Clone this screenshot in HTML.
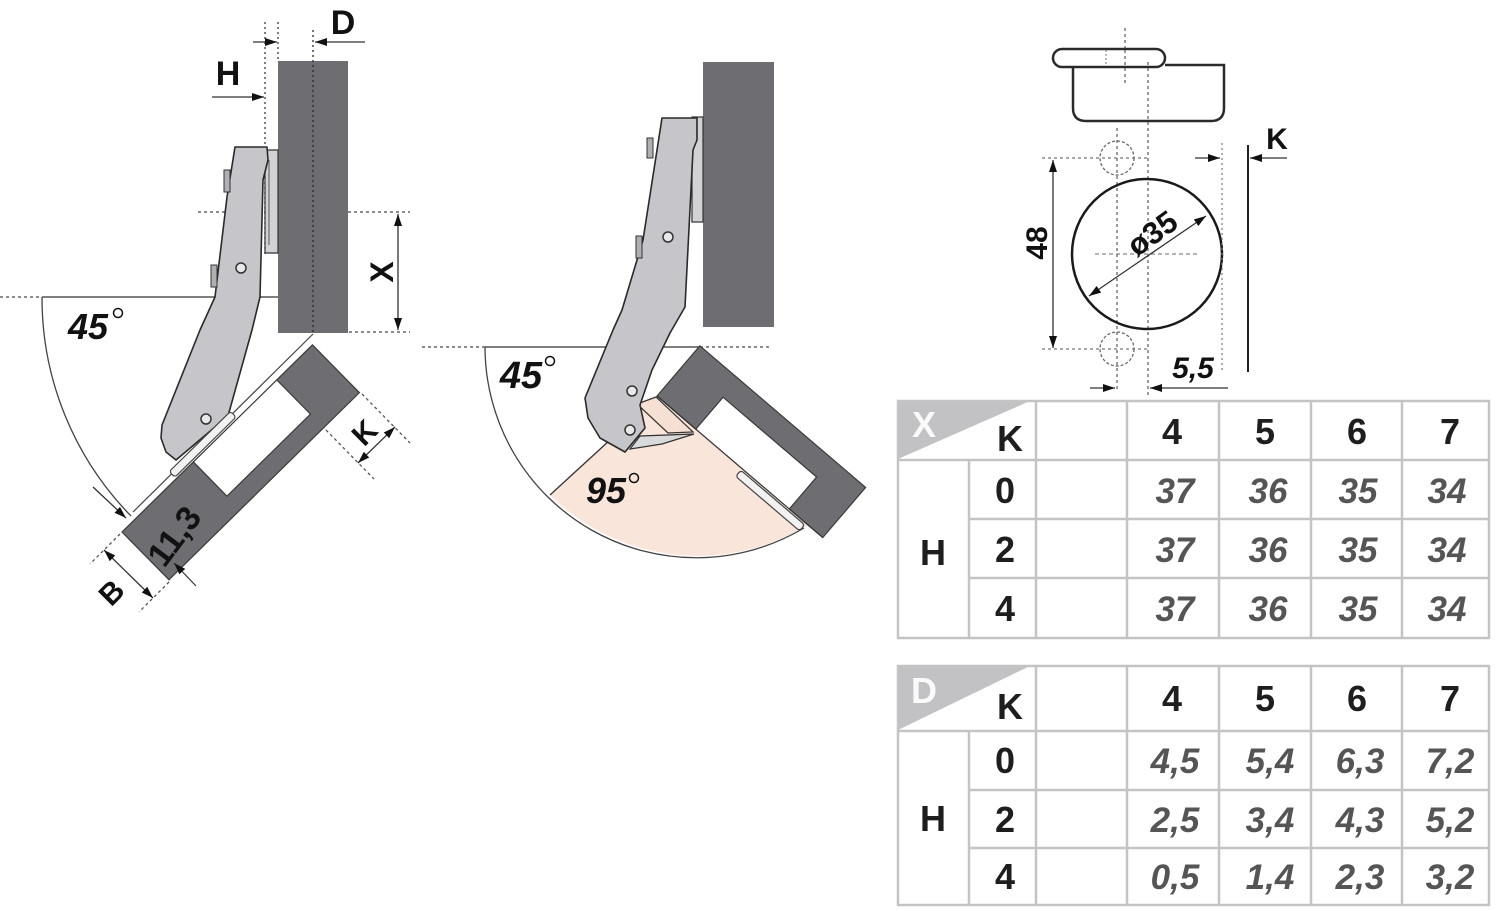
<!DOCTYPE html>
<html><head><meta charset="utf-8">
<style>
html,body{margin:0;padding:0;background:#fff;}
svg{display:block;}
text{font-family:"Liberation Sans",Arial,sans-serif;}
</style></head><body>
<svg width="1500" height="911" viewBox="0 0 1500 911" xmlns="http://www.w3.org/2000/svg">
<defs>
<marker id="ah" viewBox="0 0 12 8" refX="12" refY="4" markerWidth="12" markerHeight="8" markerUnits="userSpaceOnUse" orient="auto-start-reverse"><path d="M0,0 L12,4 L0,8 z" fill="#111"/></marker>
</defs>
<rect width="1500" height="911" fill="#fff"/>

<!-- ================= LEFT DRAWING ================= -->
<line x1="265" y1="22" x2="265" y2="255" stroke="#555" stroke-width="1.5" stroke-dasharray="2,3"/>
<line x1="278" y1="22" x2="278" y2="61" stroke="#555" stroke-width="1.5" stroke-dasharray="2,3"/>
<line x1="253" y1="42" x2="277" y2="42" stroke="#333" stroke-width="1.3" marker-end="url(#ah)"/>
<line x1="365" y1="42" x2="315" y2="42" stroke="#333" stroke-width="1.3" marker-end="url(#ah)"/>
<line x1="212" y1="97" x2="264" y2="97" stroke="#333" stroke-width="1.3" marker-end="url(#ah)"/>
<line x1="303" y1="97" x2="280" y2="97" stroke="#333" stroke-width="1.3" marker-end="url(#ah)"/>
<text x="343" y="34" font-size="34" font-weight="bold" text-anchor="middle" fill="#111">D</text>
<text x="228" y="85" font-size="34" font-weight="bold" text-anchor="middle" fill="#111">H</text>

<line x1="198" y1="212" x2="410" y2="212" stroke="#666" stroke-width="1.5" stroke-dasharray="3,3"/>
<line x1="349" y1="332" x2="410" y2="332" stroke="#666" stroke-width="1.5" stroke-dasharray="3,3"/>
<line x1="0" y1="297" x2="42" y2="297" stroke="#666" stroke-width="1.5" stroke-dasharray="3,3"/>
<line x1="42" y1="297" x2="278" y2="297" stroke="#333" stroke-width="1.3"/>
<line x1="398" y1="214" x2="398" y2="330" stroke="#333" stroke-width="1.3" marker-start="url(#ah)" marker-end="url(#ah)"/>
<text x="382" y="283" font-size="32" font-weight="bold" text-anchor="middle" fill="#111" transform="rotate(-90 382 272)">X</text>

<rect x="278" y="61" width="70" height="272" fill="#6e6d72"/>
<line x1="313" y1="30" x2="313" y2="333" stroke="#2a2a2a" stroke-width="1.3" stroke-dasharray="2,3"/>

<path d="M42,297 A312,312 0 0 0 131,516" fill="none" stroke="#444" stroke-width="1.3"/>
<line x1="93" y1="487" x2="126" y2="518" stroke="#333" stroke-width="1.3" marker-end="url(#ah)"/>
<text x="88" y="339" font-size="36" font-weight="bold" font-style="italic" text-anchor="middle" fill="#111">45</text>
<circle cx="118" cy="313" r="4.5" fill="none" stroke="#111" stroke-width="1.5"/>

<line x1="313" y1="334" x2="133" y2="512" stroke="#444" stroke-width="1.2"/>

<g transform="translate(122,532) rotate(-44.5)">
  <path d="M0,0 L100,0 L100,48 L217,48 L217,0 L267,0 L267,67 L0,67 Z" fill="#6e6d72" stroke="#3a3a3a" stroke-width="1.2"/>
  <line x1="100" y1="0" x2="217" y2="0" stroke="#333" stroke-width="1.2"/>
</g>

<path d="M265,150 L278,150 L278,253 L265,253 Z" fill="#d2d2d5" stroke="#333" stroke-width="1.2"/>
<line x1="269" y1="160" x2="269" y2="245" stroke="#555" stroke-width="1"/>

<path d="M235,147 L267,147 L268,160 L263,180 L260,297 L252,330 L228,416 L176,460 L166,452 L161,438 L162,425 L200,330 L215,297 L227,197 Z" fill="#c6c6ca" stroke="#2a2a2a" stroke-width="1.6" stroke-linejoin="round"/>
<rect x="224" y="170" width="6" height="22" fill="#b0b0b4" stroke="#333" stroke-width="1"/>
<rect x="211" y="265" width="6" height="22" fill="#b0b0b4" stroke="#333" stroke-width="1"/>
<circle cx="241" cy="268" r="5" fill="#e8e8ea" stroke="#333" stroke-width="1.5"/>
<circle cx="206" cy="419" r="5" fill="#e8e8ea" stroke="#333" stroke-width="1.5"/>
<g transform="translate(122,532) rotate(-44.5)">
  <rect x="76" y="-10" width="86" height="8" rx="3" fill="#f2f2f2" stroke="#444" stroke-width="1.2"/>
</g>

<text x="174" y="548" font-size="34" font-weight="bold" text-anchor="middle" fill="#111" transform="rotate(-53 174 536)">11,3</text>
<line x1="196" y1="586" x2="174" y2="563" stroke="#333" stroke-width="1.2" marker-end="url(#ah)"/>

<line x1="120" y1="534" x2="90" y2="564" stroke="#555" stroke-width="1.3" stroke-dasharray="3,3"/>
<line x1="169" y1="582" x2="139" y2="612" stroke="#555" stroke-width="1.3" stroke-dasharray="3,3"/>
<line x1="104" y1="550" x2="153" y2="598" stroke="#333" stroke-width="1.3" marker-start="url(#ah)" marker-end="url(#ah)"/>
<text x="111" y="603" font-size="30" font-weight="bold" text-anchor="middle" fill="#111" transform="rotate(-45 111 592)">B</text>

<line x1="362" y1="394" x2="410" y2="443" stroke="#555" stroke-width="1.3" stroke-dasharray="3,3"/>
<line x1="326" y1="430" x2="374" y2="479" stroke="#555" stroke-width="1.3" stroke-dasharray="3,3"/>
<line x1="395" y1="427" x2="358" y2="463" stroke="#333" stroke-width="1.3" marker-start="url(#ah)" marker-end="url(#ah)"/>
<text x="364" y="443" font-size="30" font-weight="bold" text-anchor="middle" fill="#111" transform="rotate(-45 364 432)">K</text>

<!-- ================= MIDDLE DRAWING ================= -->
<rect x="703" y="62" width="71" height="265" fill="#6e6d72"/>
<line x1="422" y1="347" x2="485" y2="347" stroke="#666" stroke-width="1.5" stroke-dasharray="3,3"/>
<line x1="485" y1="347" x2="700" y2="347" stroke="#333" stroke-width="1.3"/>
<line x1="700" y1="347" x2="772" y2="347" stroke="#666" stroke-width="1.5" stroke-dasharray="3,3"/>

<path d="M550,495 A211,211 0 0 0 808,525 L657,396 L640,405 L608,442 Z" fill="#f9e5d9"/>
<path d="M485,347 A211,211 0 0 0 804,528" fill="none" stroke="#444" stroke-width="1.3"/>
<line x1="550" y1="495" x2="610" y2="440" stroke="#333" stroke-width="1.3"/>

<g transform="translate(657,396) rotate(40.5)">
  <path d="M0,0 L51,0 L51,-42 L174,-42 L174,0 L218,0 L218,-66 L0,-66 Z" fill="#6e6d72" stroke="#3a3a3a" stroke-width="1.2"/>
  <line x1="0" y1="0" x2="218" y2="0" stroke="#333" stroke-width="1.2"/>
  <rect x="112" y="2" width="84" height="8" rx="3" fill="#f2f2f2" stroke="#444" stroke-width="1.2"/>
</g>

<path d="M637,404 L656,397 L693,432 L668,433 Z" fill="#f5e0d3" stroke="#333" stroke-width="1.2"/>
<path d="M630,449 L640,436 L694,434 L662,444 Z" fill="#dadadd" stroke="#333" stroke-width="1.2"/>

<rect x="692" y="117" width="11" height="105" fill="#d2d2d5" stroke="#333" stroke-width="1.2"/>

<path d="M662,118 L697,118 L697,140 L693,150 L685,307 L670,333 L652,370 L640,405 L645,428 L625,452 L600,438 L588,418 L585,398 L613,330 L622,310 L643,240 Z" fill="#c6c6ca" stroke="#2a2a2a" stroke-width="1.6" stroke-linejoin="round"/>
<rect x="647" y="138" width="6" height="20" fill="#b0b0b4" stroke="#333" stroke-width="1"/>
<rect x="636" y="236" width="6" height="22" fill="#b0b0b4" stroke="#333" stroke-width="1"/>
<circle cx="668" cy="237" r="5" fill="#e8e8ea" stroke="#333" stroke-width="1.5"/>
<circle cx="632" cy="391" r="5" fill="#e8e8ea" stroke="#333" stroke-width="1.5"/>
<circle cx="630" cy="430" r="5" fill="#e8e8ea" stroke="#333" stroke-width="1.5"/>

<text x="521" y="388" font-size="38" font-weight="bold" font-style="italic" text-anchor="middle" fill="#111">45</text>
<circle cx="550" cy="361" r="4.5" fill="none" stroke="#111" stroke-width="1.5"/>
<text x="606" y="503" font-size="36" font-weight="bold" font-style="italic" text-anchor="middle" fill="#111">95</text>
<circle cx="634" cy="478" r="4.5" fill="none" stroke="#111" stroke-width="1.5"/>

<!-- ================= CUP DRAWING ================= -->
<line x1="1125" y1="28" x2="1125" y2="83" stroke="#666" stroke-width="1.3" stroke-dasharray="3,3"/>
<path d="M1165,65 L1224,65 L1224,108 Q1224,121 1211,121 L1086,121 Q1073,121 1073,108 L1073,67" fill="#fff" stroke="#2a2a2a" stroke-width="2.5"/>
<rect x="1053" y="49" width="112" height="18" rx="9" fill="#fff" stroke="#2a2a2a" stroke-width="2.5"/>
<line x1="1106" y1="50" x2="1106" y2="66" stroke="#777" stroke-width="1" stroke-dasharray="2,2"/>
<line x1="1125" y1="50" x2="1125" y2="83" stroke="#666" stroke-width="1.3" stroke-dasharray="3,3"/>
<line x1="1148" y1="62" x2="1148" y2="395" stroke="#666" stroke-width="1.3" stroke-dasharray="3,3"/>
<line x1="1117" y1="128" x2="1117" y2="392" stroke="#666" stroke-width="1.3" stroke-dasharray="3,3"/>
<circle cx="1117" cy="158" r="17" fill="none" stroke="#666" stroke-width="1.3" stroke-dasharray="3,2"/>
<circle cx="1117" cy="349" r="17" fill="none" stroke="#666" stroke-width="1.3" stroke-dasharray="3,2"/>
<line x1="1042" y1="158" x2="1148" y2="158" stroke="#777" stroke-width="1.2" stroke-dasharray="3,3"/>
<line x1="1042" y1="349" x2="1148" y2="349" stroke="#777" stroke-width="1.2" stroke-dasharray="3,3"/>
<line x1="1053" y1="160" x2="1053" y2="348" stroke="#333" stroke-width="1.3" marker-start="url(#ah)" marker-end="url(#ah)"/>
<text x="1036" y="254" font-size="30" font-weight="bold" text-anchor="middle" fill="#111" transform="rotate(-90 1036 243)">48</text>
<circle cx="1147" cy="254" r="75" fill="none" stroke="#1a1a1a" stroke-width="2.5"/>
<line x1="1095" y1="254" x2="1200" y2="254" stroke="#888" stroke-width="1.2" stroke-dasharray="4,3"/>
<line x1="1089" y1="296" x2="1206" y2="216" stroke="#333" stroke-width="1.3" marker-start="url(#ah)" marker-end="url(#ah)"/>
<text x="1152" y="244" font-size="31" font-weight="bold" text-anchor="middle" fill="#111" transform="rotate(-36 1152 233)">ø35</text>
<line x1="1222" y1="143" x2="1222" y2="373" stroke="#777" stroke-width="1.2" stroke-dasharray="2,3"/>
<line x1="1248" y1="145" x2="1248" y2="372" stroke="#222" stroke-width="2"/>
<line x1="1195" y1="158" x2="1220" y2="158" stroke="#333" stroke-width="1.3" marker-end="url(#ah)"/>
<line x1="1287" y1="158" x2="1250" y2="158" stroke="#333" stroke-width="1.3" marker-end="url(#ah)"/>
<text x="1277" y="149" font-size="30" font-weight="bold" text-anchor="middle" fill="#111">K</text>
<line x1="1090" y1="388" x2="1115" y2="388" stroke="#333" stroke-width="1.3" marker-end="url(#ah)"/>
<line x1="1228" y1="388" x2="1150" y2="388" stroke="#333" stroke-width="1.3" marker-end="url(#ah)"/>
<text x="1193" y="378" font-size="30" font-weight="bold" font-style="italic" text-anchor="middle" fill="#111">5,5</text>

<!-- ================= TABLE 1 ================= -->
<g stroke="#c4c4c4" stroke-width="2.5" fill="none">
  <path d="M898,401 L1030,401 L898,459 Z" fill="#c2c2c4" stroke="none"/>
  <rect x="898" y="401" width="591" height="237"/>
  <line x1="898" y1="460" x2="1489" y2="460"/>
  <line x1="969" y1="519" x2="1489" y2="519"/>
  <line x1="969" y1="578" x2="1489" y2="578"/>
  <line x1="969" y1="460" x2="969" y2="638"/>
  <line x1="1036" y1="401" x2="1036" y2="638"/>
  <line x1="1127" y1="401" x2="1127" y2="638"/>
  <line x1="1219" y1="401" x2="1219" y2="638"/>
  <line x1="1311" y1="401" x2="1311" y2="638"/>
  <line x1="1402" y1="401" x2="1402" y2="638"/>
</g>
<text x="924" y="437" font-size="36" font-weight="bold" text-anchor="middle" fill="#fafafa">X</text>
<g font-size="36" font-weight="bold" fill="#1e1e1e" text-anchor="middle">
  <text x="1010" y="451">K</text>
  <text x="1172" y="444">4</text>
  <text x="1265" y="444">5</text>
  <text x="1357" y="444">6</text>
  <text x="1450" y="444">7</text>
  <text x="1005" y="503">0</text>
  <text x="1005" y="562">2</text>
  <text x="1005" y="621">4</text>
  <text x="933" y="565">H</text>
</g>
<g font-size="35" font-weight="bold" font-style="italic" fill="#555" text-anchor="middle">
  <text x="1175" y="503">37</text><text x="1268" y="503">36</text><text x="1358" y="503">35</text><text x="1447" y="503">34</text>
  <text x="1175" y="562">37</text><text x="1268" y="562">36</text><text x="1358" y="562">35</text><text x="1447" y="562">34</text>
  <text x="1175" y="621">37</text><text x="1268" y="621">36</text><text x="1358" y="621">35</text><text x="1447" y="621">34</text>
</g>

<!-- ================= TABLE 2 ================= -->
<g stroke="#c4c4c4" stroke-width="2.5" fill="none">
  <path d="M898,666 L1030,666 L898,730 Z" fill="#c2c2c4" stroke="none"/>
  <rect x="898" y="666" width="591" height="239"/>
  <line x1="898" y1="731" x2="1489" y2="731"/>
  <line x1="969" y1="790" x2="1489" y2="790"/>
  <line x1="969" y1="848" x2="1489" y2="848"/>
  <line x1="969" y1="731" x2="969" y2="905"/>
  <line x1="1036" y1="666" x2="1036" y2="905"/>
  <line x1="1127" y1="666" x2="1127" y2="905"/>
  <line x1="1219" y1="666" x2="1219" y2="905"/>
  <line x1="1311" y1="666" x2="1311" y2="905"/>
  <line x1="1402" y1="666" x2="1402" y2="905"/>
</g>
<text x="924" y="703" font-size="36" font-weight="bold" text-anchor="middle" fill="#fafafa">D</text>
<g font-size="36" font-weight="bold" fill="#1e1e1e" text-anchor="middle">
  <text x="1010" y="719">K</text>
  <text x="1172" y="711">4</text>
  <text x="1265" y="711">5</text>
  <text x="1357" y="711">6</text>
  <text x="1450" y="711">7</text>
  <text x="1005" y="773">0</text>
  <text x="1005" y="832">2</text>
  <text x="1005" y="889">4</text>
  <text x="933" y="831">H</text>
</g>
<g font-size="35" font-weight="bold" font-style="italic" fill="#555" text-anchor="middle">
  <text x="1175" y="773">4,5</text><text x="1270" y="773">5,4</text><text x="1360" y="773">6,3</text><text x="1450" y="773">7,2</text>
  <text x="1175" y="832">2,5</text><text x="1270" y="832">3,4</text><text x="1360" y="832">4,3</text><text x="1450" y="832">5,2</text>
  <text x="1175" y="889">0,5</text><text x="1270" y="889">1,4</text><text x="1360" y="889">2,3</text><text x="1450" y="889">3,2</text>
</g>
</svg>
</body></html>
